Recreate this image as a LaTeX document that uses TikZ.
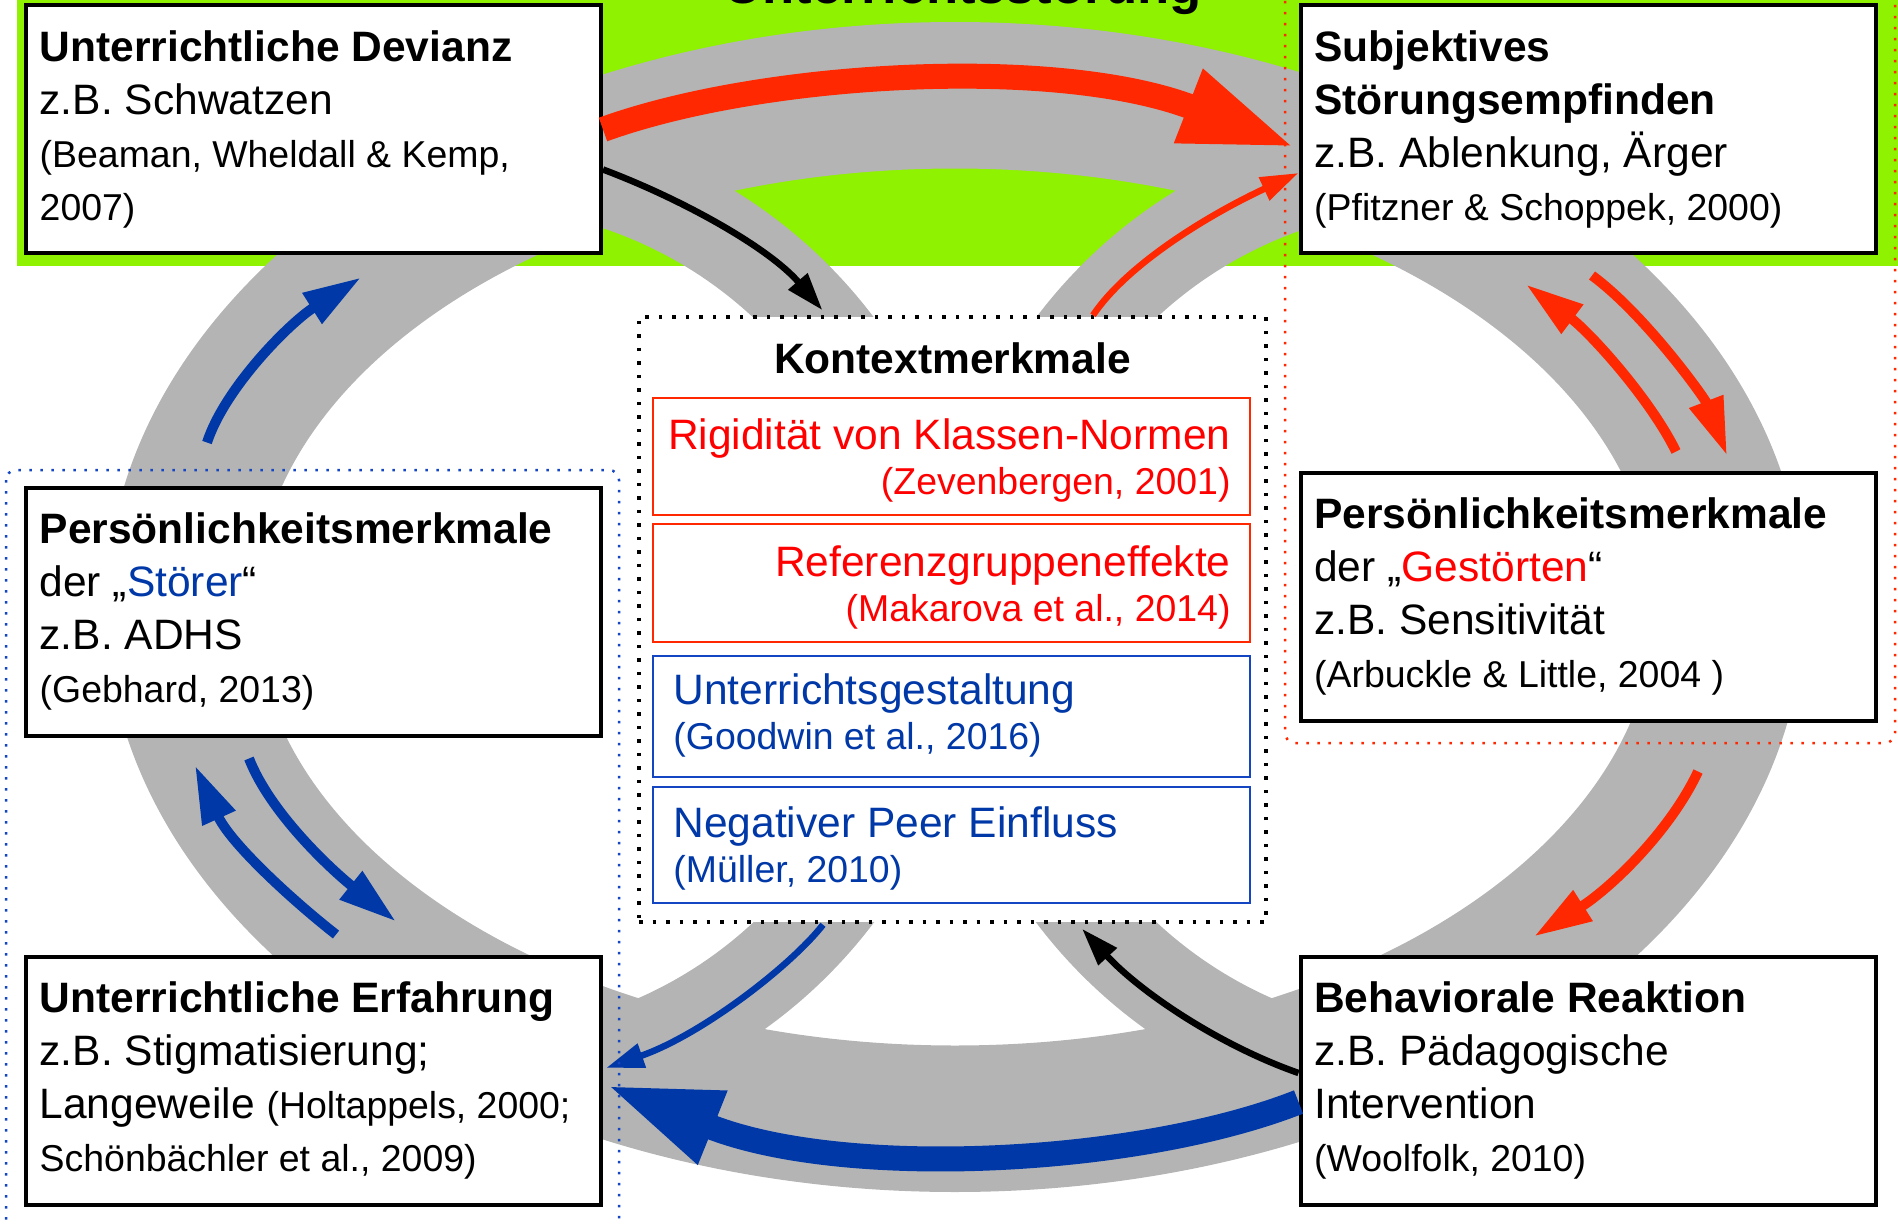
\documentclass[tikz,border=0pt]{standalone}
\usepackage{fontspec}
\setmainfont{Liberation Sans}
\usepackage{tikz}
\usetikzlibrary{arrows.meta}
\usepackage{xcolor}

\definecolor{stgreen}{RGB}{142,242,0}
\definecolor{stgray}{RGB}{180,180,180}
\definecolor{stred}{RGB}{255,0,0}
\definecolor{storange}{RGB}{255,40,0}
\definecolor{stblue}{RGB}{0,56,168}
\definecolor{stframe}{RGB}{20,70,195}

\newcommand{\quelle}[1]{{\fontsize{10.65}{15.1}\selectfont #1}}

\begin{document}
\begin{tikzpicture}[x=0.1mm, y=-0.1mm,
    box/.style={draw, line width=0.4mm, fill=white, minimum width=57.5mm, minimum height=24.8mm, inner sep=0},
    plainspace/.style={execute at begin node={\spaceskip=0pt\xspaceskip=0pt}},
    boxtxt/.style={plainspace, anchor=base west, inner sep=0, text width=55mm, align=flush left, font=\fontsize{12.1}{15.1}\selectfont},
    redbox/.style={draw=storange, line width=0.25mm, minimum width=59.7mm, inner sep=0},
    bluebox/.style={draw=stframe, line width=0.25mm, minimum width=59.7mm, inner sep=0},
    redtxt/.style={plainspace, anchor=base east, inner sep=0, text width=58mm, align=flush right, text=stred, font=\fontsize{12.1}{12.6}\selectfont},
    bluetxt/.style={plainspace, anchor=base west, inner sep=0, text width=58mm, align=flush left, text=stblue, font=\fontsize{12.1}{12.6}\selectfont},
    bigarrow/.style={line width=2.5mm, -{Triangle[length=11.5mm, width=7.2mm]}},
    midarrow/.style={line width=1mm, -{Triangle[length=5.8mm, width=3.4mm]}},
    thinarrow/.style={line width=0.65mm, -{Triangle[length=3.8mm, width=2.4mm]}},
    dotframe/.style={line width=0.25mm, dash pattern=on 0.25mm off 0.85mm, rounded corners=1mm}]

        \useasboundingbox (0,0) rectangle (1898,1223);

        % background band and title
        \fill[stgreen] (17,-10) rectangle (1910,266);
        \node[font=\bfseries\fontsize{15}{18}\selectfont, anchor=base] (titel) at (963,4) {Unterrichtsstörung};

        % gray cycle
        \fill[stgray, even odd rule] (955,607) ellipse [x radius=84.9mm, y radius=58.5mm]
            (955,607) ellipse [x radius=70mm, y radius=43.85mm];
        \draw[stgray, line width=9mm] (472,620) ++(0,-458) arc [start angle=90, end angle=-90, radius=45.8mm];
        \draw[stgray, line width=9mm] (1438,620) ++(0,-458) arc [start angle=90, end angle=270, radius=45.8mm];

        % context in the middle
        \node[draw, fill=white, line width=0.35mm, dash pattern=on 0.35mm off 1mm, minimum width=62.7mm, minimum height=60.5mm, inner sep=0] (kontext) at (952.5,619.5) {};
        \node[font=\bfseries\fontsize{12.1}{14}\selectfont, anchor=base] (kontexttitel) at ([shift={(0,58)}]kontext.north) {Kontextmerkmale};
        \node[redbox, minimum height=11.7mm] (rigid) at (951.5,456.5) {};
        \node[redtxt] (rigidtxt) at ([shift={(-20,53)}]rigid.north east) {Rigidität von Klassen-Normen\\ \quelle{(Zevenbergen, 2001)}};
        \node[redbox, minimum height=11.8mm] (refgrp) at (951.5,583) {};
        \node[redtxt] (refgrptxt) at ([shift={(-20,54)}]refgrp.north east) {Referenzgruppeneffekte\\ \quelle{(Makarova et al., 2014)}};
        \node[bluebox, minimum height=12.1mm] (gestalt) at (951.5,716.5) {};
        \node[bluetxt] (gestalttxt) at ([shift={(21,50)}]gestalt.north west) {Unterrichtsgestaltung\\ \quelle{(Goodwin et al., 2016)}};
        \node[bluebox, minimum height=11.6mm] (peer) at (951.5,845) {};
        \node[bluetxt] (peertxt) at ([shift={(21,52)}]peer.north west) {Negativer Peer Einfluss\\ \quelle{(Müller, 2010)}};

        % the six boxes
        \node[box] (devianz) at (313.5,129.5) {};
        \node[box] (empfinden) at (1588,129.5) {};
        \node[box] (stoerer) at (313.5,611.5) {};
        \node[box] (gestoerte) at (1588,596.5) {};
        \node[box] (erfahrung) at (313.5,1080.5) {};
        \node[box] (reaktion) at (1588,1080.5) {};

        \node[boxtxt] (devianztxt) at ([shift={(15,58)}]devianz.north west) {\textbf{Unterrichtliche Devianz}\\ z.B. Schwatzen\\ \quelle{(Beaman, Wheldall \& Kemp,}\\ \quelle{2007)}};
        \node[boxtxt] (empfindentxt) at ([shift={(15,58)}]empfinden.north west) {\textbf{Subjektives}\\ \textbf{Störungsempfinden}\\ z.B. Ablenkung, Ärger\\ \quelle{(Pfitzner \& Schoppek, 2000)}};
        \node[boxtxt] (stoerertxt) at ([shift={(15,58)}]stoerer.north west) {\textbf{Persönlichkeitsmerkmale}\\ der „\textcolor{stblue}{Störer}“\\ z.B. ADHS\\ \quelle{(Gebhard, 2013)}};
        \node[boxtxt] (gestoertetxt) at ([shift={(15,58)}]gestoerte.north west) {\textbf{Persönlichkeitsmerkmale}\\ der „\textcolor{stred}{Gestörten}“\\ z.B. Sensitivität\\ \quelle{(Arbuckle \& Little, 2004 )}};
        \node[boxtxt] (erfahrungtxt) at ([shift={(15,58)}]erfahrung.north west) {\textbf{Unterrichtliche Erfahrung}\\ z.B. Stigmatisierung;\\ Langeweile \quelle{(Holtappels, 2000;}\\ \quelle{Schönbächler et al., 2009)}};
        \node[boxtxt] (reaktiontxt) at ([shift={(15,58)}]reaktion.north west) {\textbf{Behaviorale Reaktion}\\ z.B. Pädagogische\\ Intervention\\ \quelle{(Woolfolk, 2010)}};

        % arrows
        \draw[bigarrow, storange] (devianz.east) .. controls +(160,-58) and +(-237,-92) .. ([shift={(-3,18)}]empfinden.west);
        \draw[thinarrow] ([shift={(0,40)}]devianz.east) .. controls +(80,30) and +(-53,-62) .. ([shift={(-130,-5)}]kontext.north);
        \draw[thinarrow, storange] ([shift={(140.5,0)}]kontext.north) .. controls +(37,-55) and +(-80,37) .. ([shift={(0,43.5)}]empfinden.west);
        \draw[midarrow, storange] ([shift={(88,-19)}]gestoerte.north) .. controls +(-26,-53) and +(64,48) .. ([shift={(-62,29)}]empfinden.south);
        \draw[midarrow, storange] ([shift={(4,20)}]empfinden.south) .. controls +(53,39) and +(-22,-57) .. ([shift={(139,-15)}]gestoerte.north);
        \draw[midarrow, storange] ([shift={(110,49)}]gestoerte.south) .. controls +(-28,60) and +(76,-48) .. ([shift={(-54,-18)}]reaktion.north);
        \draw[bigarrow, stblue] ([shift={(0,21.5)}]reaktion.west) .. controls +(-160,63) and +(237,95) .. ([shift={(3,4.5)}]erfahrung.east);
        \draw[thinarrow] ([shift={(0,-7.5)}]reaktion.west) .. controls +(-80,-28) and +(58,63) .. ([shift={(129.5,5)}]kontext.south);
        \draw[thinarrow, stblue] ([shift={(-129.5,1)}]kontext.south) .. controls +(-33,42) and +(95,-33) .. ([shift={(3,-12.5)}]erfahrung.east);
        \draw[midarrow, stblue] ([shift={(22.5,-20)}]erfahrung.north) .. controls +(-46,-36) and +(35,77) .. ([shift={(-118.5,28)}]stoerer.south);
        \draw[midarrow, stblue] ([shift={(-64.5,21)}]stoerer.south) .. controls +(21,54) and +(-66,-53) .. ([shift={(82.5,-33)}]erfahrung.north);
        \draw[midarrow, stblue] ([shift={(-106.5,-43)}]stoerer.north) .. controls +(18,-55) and +(-71,45) .. ([shift={(47.5,22)}]devianz.south);

        % dotted groups
        \draw[dotframe, stframe] (6,470) rectangle (619,1240);
        \draw[dotframe, storange] (1285,-20) rectangle (1895,743);

\end{tikzpicture}
\end{document}
